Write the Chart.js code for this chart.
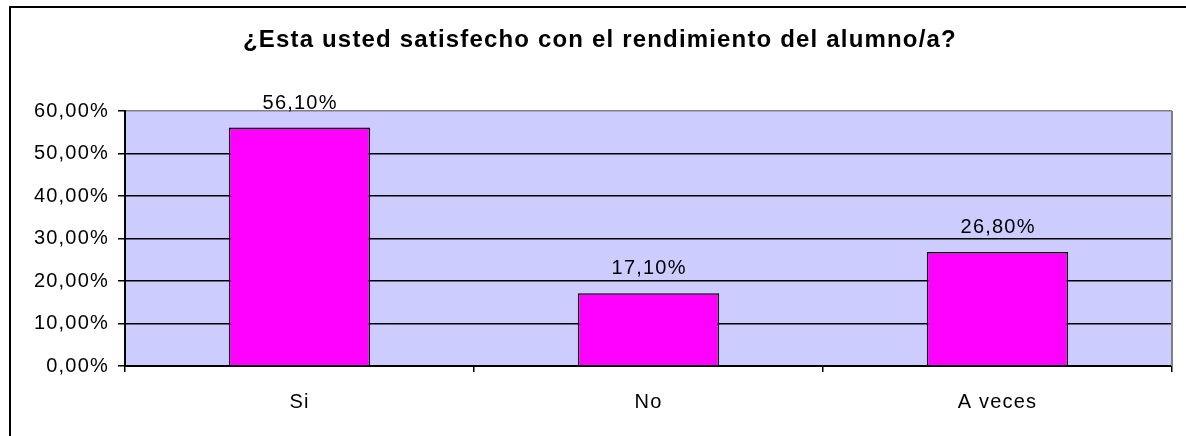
<!DOCTYPE html>
<html>
<head>
<meta charset="utf-8">
<script src="https://cdn.jsdelivr.net/npm/chart.js@4.4.1/dist/chart.umd.min.js"></script>
<style>
  html, body { margin: 0; padding: 0; background: #fff; }
  canvas { display: block; }
</style>
</head>
<body>
<canvas id="chart" width="1186" height="436"></canvas>
<script>
// ===============================
// DATOS
// ===============================
const chartTitle = "¿Esta usted satisfecho con el rendimiento del alumno/a?";
const categories = ["Si", "No", "A veces"];
const values = [56.1, 17.1, 26.8];
const yTicks = [0, 10, 20, 30, 40, 50, 60];

const FONT = "'Liberation Sans', Arial, sans-serif";

const fmtPct = v => v.toFixed(2).replace(".", ",") + "%";

// marco, fondo del área, título y etiquetas de datos
const decorPlugin = {
    id: "decor",
    beforeDraw(chart) {
        const { ctx, chartArea: a } = chart;
        ctx.save();
        ctx.fillStyle = "#fff";
        ctx.fillRect(0, 0, chart.width, chart.height);
        ctx.fillStyle = "#CCCCFF";
        ctx.fillRect(a.left, a.top, a.right - a.left, a.bottom - a.top);
        ctx.strokeStyle = "#000";
        ctx.lineWidth = 2;
        ctx.strokeRect(10, 7, chart.width + 20, chart.height + 20);

        // título (ancho como en la imagen: 243 -> 957)
        ctx.fillStyle = "#000";
        ctx.font = "bold 24px " + FONT;
        ctx.letterSpacing = "0px";
        const w = ctx.measureText(chartTitle).width;
        const n = [...chartTitle].length;
        ctx.letterSpacing = Math.max(0, (714 - w) / n).toFixed(2) + "px";
        ctx.textAlign = "left";
        ctx.textBaseline = "alphabetic";
        ctx.fillText(chartTitle, 243, 47);
        ctx.restore();

        // espaciado de letras para ejes y etiquetas
        ctx.letterSpacing = "1.2px";
    },
    afterDraw(chart) {
        const { ctx, chartArea: a } = chart;
        ctx.save();
        ctx.strokeStyle = "#808080";
        ctx.lineWidth = 2;
        ctx.beginPath();
        ctx.moveTo(a.right, a.top);
        ctx.lineTo(a.right, a.bottom);
        ctx.stroke();
        ctx.fillStyle = "#000";
        ctx.font = "20px " + FONT;
        ctx.textAlign = "center";
        ctx.textBaseline = "alphabetic";
        chart.getDatasetMeta(0).data.forEach((bar, i) => {
            ctx.fillText(fmtPct(values[i]), bar.x + 0.6, bar.y - 19);
        });
        ctx.restore();
    }
};

new Chart(document.getElementById("chart"), {
    type: "bar",
    data: {
        labels: categories,
        datasets: [{
            data: values,
            backgroundColor: "#FF00FF",
            borderColor: "#000",
            borderWidth: 1.5,
            barPercentage: 0.405,
            categoryPercentage: 1
        }]
    },
    options: {
        responsive: false,
        animation: false,
        layout: { padding: { left: 0, right: 14, top: 111, bottom: 0 } },
        plugins: {
            legend: { display: false },
            title: { display: false },
            tooltip: { enabled: false }
        },
        scales: {
            x: {
                afterFit: s => { s.height = 70; },
                grid: {
                    offset: true,
                    drawOnChartArea: false,
                    drawTicks: true,
                    tickLength: 6,
                    color: "#000",
                    lineWidth: 1.5
                },
                border: { color: "#000", width: 2 },
                ticks: {
                    color: "#000",
                    font: { family: FONT, size: 20 },
                    padding: 18
                }
            },
            y: {
                min: 0,
                max: 60,
                afterFit: s => { s.width = 125; },
                afterBuildTicks: s => { s.ticks = yTicks.map(v => ({ value: v })); },
                grid: {
                    color: c => (c.tick && c.tick.value === 60) ? "#808080" : "#000",
                    lineWidth: 1.5,
                    tickLength: 7,
                    tickColor: "#000"
                },
                border: { color: "#000", width: 2 },
                ticks: {
                    color: "#000",
                    font: { family: FONT, size: 20 },
                    padding: 9,
                    callback: v => fmtPct(v)
                }
            }
        }
    },
    plugins: [decorPlugin]
});
</script>
</body>
</html>
